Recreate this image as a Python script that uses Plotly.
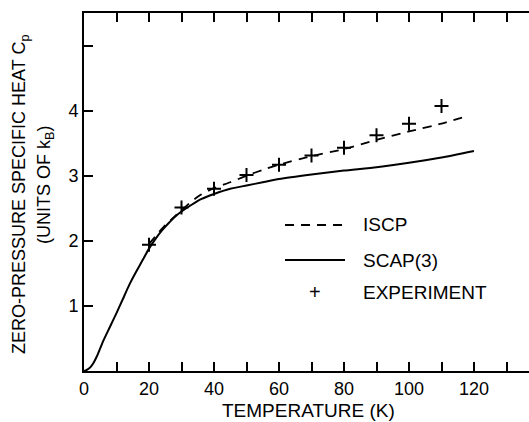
import plotly.graph_objects as go

# ---- data ----
T_scap = [0, 1, 2, 3, 4, 5, 6, 8, 10, 12, 14, 16, 18, 20, 22, 24, 26, 28, 30, 33, 36, 40, 45, 50,
          55, 60, 70, 80, 90, 100, 110, 120]
Cp_scap = [0.0, 0.02, 0.06, 0.13, 0.23, 0.35, 0.47, 0.68, 0.89, 1.11, 1.33, 1.52, 1.70,
           1.88, 2.03, 2.16, 2.27, 2.37, 2.45, 2.55, 2.64, 2.72, 2.80, 2.85, 2.90, 2.95,
           3.02, 3.08, 3.13, 3.20, 3.28, 3.38]

T_iscp = [20, 22, 25, 28, 30, 33, 36, 40, 45, 50, 55, 60, 70, 80, 90, 100, 110, 118]
Cp_iscp = [1.95, 2.07, 2.24, 2.38, 2.47, 2.60, 2.71, 2.81, 2.90, 3.00, 3.09, 3.17, 3.30,
           3.41, 3.55, 3.68, 3.80, 3.92]

T_exp = [20, 30, 40, 50, 60, 70, 80, 90, 100, 110]
Cp_exp = [1.94, 2.51, 2.80, 3.01, 3.17, 3.31, 3.43, 3.62, 3.80, 4.07]

x_tickvals = [0, 20, 40, 60, 80, 100, 120]
x_ticktext = ["0", "20", "40", "60", "80", "100", "120"]
y_tickvals = [1, 2, 3, 4, 5]
y_ticktext = ["1", "2", "3", "4", ""]

legend_names = ["ISCP", "SCAP(3)", "EXPERIMENT"]

FONT = "Liberation Sans, Arial, sans-serif"
W, H = 529, 422
ML, MR, MT, MB = 84, 0, 13, 51
PW, PH = W - ML - MR, H - MT - MB


def px2paper(px, py):
    return (px - ML) / PW, (H - MB - py) / PH


fig = go.Figure()
fig.add_trace(go.Scatter(x=T_scap, y=Cp_scap, mode="lines", name=legend_names[1],
                         line=dict(color="black", width=2, shape="spline", smoothing=0.5)))
fig.add_trace(go.Scatter(x=T_iscp, y=Cp_iscp, mode="lines", name=legend_names[0],
                         line=dict(color="black", width=1.8, dash="9px,7px",
                                   shape="spline", smoothing=0.6)))
fig.add_trace(go.Scatter(x=T_exp, y=Cp_exp, mode="markers", name=legend_names[2],
                         marker=dict(symbol="cross-thin", size=10, color="black",
                                     line=dict(color="black", width=2))))

# manual legend
x0, y0 = px2paper(285, 225)
x1, _ = px2paper(345, 225)
fig.add_shape(type="line", xref="paper", yref="paper", x0=x0, x1=x1, y0=y0, y1=y0,
              line=dict(color="black", width=1.8, dash="9px,7px"))
x0, y1 = px2paper(285, 260)
fig.add_shape(type="line", xref="paper", yref="paper", x0=x0, x1=x1, y0=y1, y1=y1,
              line=dict(color="black", width=2))
xt, _ = px2paper(361, 0)
xp, y2 = px2paper(315, 292)
for name, yy in zip(legend_names, [y0, y1, y2]):
    fig.add_annotation(text=name, x=xt, y=yy, xref="paper", yref="paper",
                       xanchor="left", yanchor="middle", showarrow=False,
                       font=dict(family=FONT, size=19, color="black"))
fig.add_annotation(text="+", x=xp, y=y2, xref="paper", yref="paper",
                   xanchor="center", yanchor="middle", showarrow=False,
                   font=dict(family=FONT, size=20, color="black"))

# axis titles
xa, ya = px2paper(308, 410)
fig.add_annotation(text="TEMPERATURE (K)", x=xa, y=ya, xref="paper", yref="paper",
                   xanchor="center", yanchor="middle", showarrow=False,
                   font=dict(family=FONT, size=19, color="black"))
_, yt = px2paper(0, 195)
xt1, _ = px2paper(20, 0)
xt2, _ = px2paper(45, 0)
fig.add_annotation(text="ZERO-PRESSURE SPECIFIC HEAT C<sub>p</sub>", x=xt1, y=yt,
                   xref="paper", yref="paper", textangle=-90, xanchor="center",
                   yanchor="middle", showarrow=False,
                   font=dict(family=FONT, size=18, color="black"))
_, yt2 = px2paper(0, 185)
fig.add_annotation(text="(UNITS OF k<sub>B</sub>)", x=xt2, y=yt2,
                   xref="paper", yref="paper", textangle=-90, xanchor="center",
                   yanchor="middle", showarrow=False,
                   font=dict(family=FONT, size=18, color="black"))

fig.update_layout(
    width=W, height=H,
    margin=dict(l=ML, r=MR, t=MT, b=MB),
    paper_bgcolor="white", plot_bgcolor="white",
    showlegend=False,
    font=dict(family=FONT, size=18, color="black"),
    xaxis=dict(range=[0, PW / 3.25], tickvals=x_tickvals, ticktext=x_ticktext,
               ticks="inside", ticklen=9, tickwidth=1.6, tickcolor="black",
               minor=dict(dtick=10, tick0=0, ticks="inside", ticklen=9, tickwidth=1.6,
                          tickcolor="black", showgrid=False),
               showline=True, linecolor="black", linewidth=2, mirror="ticks",
               showgrid=False, zeroline=False,
               tickfont=dict(family=FONT, size=18, color="black")),
    yaxis=dict(range=[0, 5.5], tickvals=y_tickvals, ticktext=y_ticktext,
               ticks="inside", ticklen=9, tickwidth=1.6, tickcolor="black",
               showline=True, linecolor="black", linewidth=2, mirror=False,
               showgrid=False, zeroline=False,
               tickfont=dict(family=FONT, size=18, color="black")),
)

fig.write_html("out.html", config={"displayModeBar": False},
               post_script="document.body.style.margin='0';document.body.style.padding='0';")
